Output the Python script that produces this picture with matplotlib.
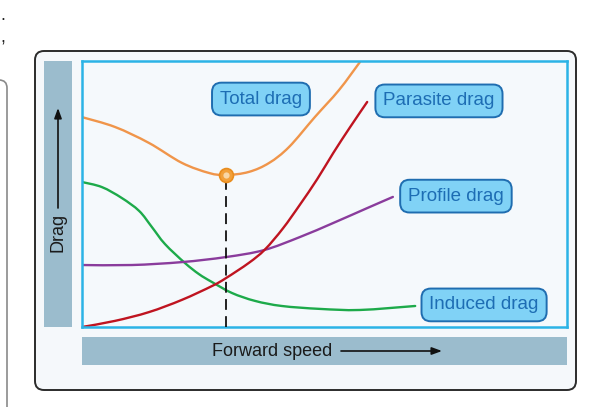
import matplotlib
matplotlib.use("Agg")
import matplotlib.pyplot as plt
from matplotlib.patches import FancyBboxPatch, Rectangle, PathPatch
from matplotlib.path import Path

plt.rcParams['font.family'] = ['Liberation Sans', 'DejaVu Sans']

# ---- data (normalized forward speed 0..10, drag 0..10) ----
total_x = [0, 0.68, 1.38, 2.06, 2.62, 2.97, 3.44, 3.86, 4.27, 4.80, 5.30, 5.73]
total_y = [7.89, 7.52, 6.92, 6.17, 5.79, 5.71, 5.83, 6.17, 6.77, 7.89, 8.91, 9.96]

parasite_x = [0, 0.68, 1.38, 2.06, 2.68, 2.97, 3.44, 3.77, 4.14, 4.49, 4.85, 5.18, 5.53, 5.88]
parasite_y = [0, 0.23, 0.56, 1.02, 1.54, 1.84, 2.41, 2.91, 3.70, 4.59, 5.56, 6.54, 7.52, 8.46]

profile_x = [0, 1.03, 2.06, 2.97, 3.75, 4.49, 5.18, 5.88, 6.41]
profile_y = [2.33, 2.33, 2.44, 2.63, 2.89, 3.38, 3.91, 4.47, 4.89]

induced_x = [0, 0.41, 0.82, 1.18, 1.44, 1.71, 2.12, 2.41, 2.68, 3.09, 3.57, 4.12, 4.91, 5.73, 6.87]
induced_y = [5.45, 5.26, 4.85, 4.36, 3.76, 3.12, 2.41, 1.99, 1.69, 1.28, 0.98, 0.79, 0.68, 0.64, 0.79]

min_speed = 2.97
min_drag = 5.71

labels = ["Total drag", "Parasite drag", "Profile drag", "Induced drag"]
label_x = [3.69, 7.36, 7.71, 8.29]
label_y = [8.57, 8.50, 4.92, 0.83]

x_label = "Forward speed"
y_label = "Drag"


def smooth_path(xs, ys):
    """Smooth curve through the given points (Catmull-Rom drawn as cubic Bezier)."""
    pts = list(zip(xs, ys))
    n = len(pts)
    verts = [pts[0]]
    codes = [Path.MOVETO]
    for i in range(n - 1):
        p0 = pts[i - 1] if i > 0 else pts[i]
        p1 = pts[i]
        p2 = pts[i + 1]
        p3 = pts[i + 2] if i + 2 < n else pts[i + 1]
        c1 = (p1[0] + (p2[0] - p0[0]) / 6, p1[1] + (p2[1] - p0[1]) / 6)
        c2 = (p2[0] - (p3[0] - p1[0]) / 6, p2[1] - (p3[1] - p1[1]) / 6)
        verts += [c1, c2, p2]
        codes += [Path.CURVE4] * 3
    return Path(verts, codes)


# ---- figure ----
W, H = 600, 407
fig = plt.figure(figsize=(6, 4.07), dpi=100)
fig.patch.set_facecolor('white')

bg = fig.add_axes([0, 0, 1, 1], zorder=0)
bg.set_xlim(0, W)
bg.set_ylim(H, 0)
bg.axis('off')

# cut-off neighbour box and text fragments
bg.add_patch(FancyBboxPatch((-30, 80), 37, 360, boxstyle="round,pad=0,rounding_size=8",
                            fc='white', ec='#8a8a8a', lw=1.2, clip_on=True))
bg.text(0, 15, ".", fontsize=13, color='#222', ha='left', va='center')
bg.text(0, 38, ",", fontsize=13, color='#222', ha='left', va='center')

# outer frame
bg.add_patch(FancyBboxPatch((35, 51), 541, 339, boxstyle="round,pad=0,rounding_size=9",
                            fc='#f5f8fb', ec='#2b2b2b', lw=1.4))

bar_c = '#9bbccd'
bg.add_patch(Rectangle((44, 61), 28, 266, fc=bar_c, ec='none'))
bg.add_patch(Rectangle((82, 337), 485, 28, fc=bar_c, ec='none'))

bg.text(58, 232, y_label, rotation=90, ha='center', va='center', fontsize=13, color='#1a1a1a')
bg.annotate("", xy=(58, 108), xytext=(58, 208),
            arrowprops=dict(arrowstyle='-|>,head_length=0.6,head_width=0.22', color='#111', lw=1.2,
                            shrinkA=0, shrinkB=0))
bg.text(272, 351, x_label, ha='center', va='center', fontsize=13, color='#1a1a1a')
bg.annotate("", xy=(442, 351), xytext=(341, 351),
            arrowprops=dict(arrowstyle='-|>,head_length=0.6,head_width=0.22', color='#111', lw=1.2,
                            shrinkA=0, shrinkB=0))

# ---- plot area ----
ax = fig.add_axes([82 / W, (H - 327) / H, 485 / W, 266 / H], zorder=1)
ax.set_facecolor('#f5f9fc')
ax.set_xlim(0, 10)
ax.set_ylim(0, 10)
ax.set_xticks([])
ax.set_yticks([])
for s in ax.spines.values():
    s.set_color('#2bb3e6')
    s.set_linewidth(1.8)

lw = 1.7
for xs, ys, c in [(induced_x, induced_y, '#1daa4a'),
                  (profile_x, profile_y, '#8a3c9c'),
                  (parasite_x, parasite_y, '#bf1420'),
                  (total_x, total_y, '#f0954a')]:
    ax.add_patch(PathPatch(smooth_path(xs, ys), fc='none', ec=c, lw=lw,
                           capstyle='round', joinstyle='round', zorder=2))

ax.plot([min_speed, min_speed], [0, min_drag], color='#111', lw=1.3, dashes=(6, 3.5), zorder=3)
ax.plot([min_speed], [min_drag], marker='o', ms=10, mfc='#f2a03a', mec='#e98d1e', mew=1.2, zorder=4)
ax.plot([min_speed], [min_drag], marker='o', ms=4.5, mfc='#f8d6a6', mec='none', zorder=4)

for t, x, y in zip(labels, label_x, label_y):
    ax.text(x, y, t, ha='center', va='center', fontsize=13.5, color='#1d6db4', zorder=5,
            bbox=dict(boxstyle='round,pad=0.42,rounding_size=0.5', fc='#80d2f6', ec='#1f6db0', lw=1.4))

fig.savefig('out.png', dpi=100)
